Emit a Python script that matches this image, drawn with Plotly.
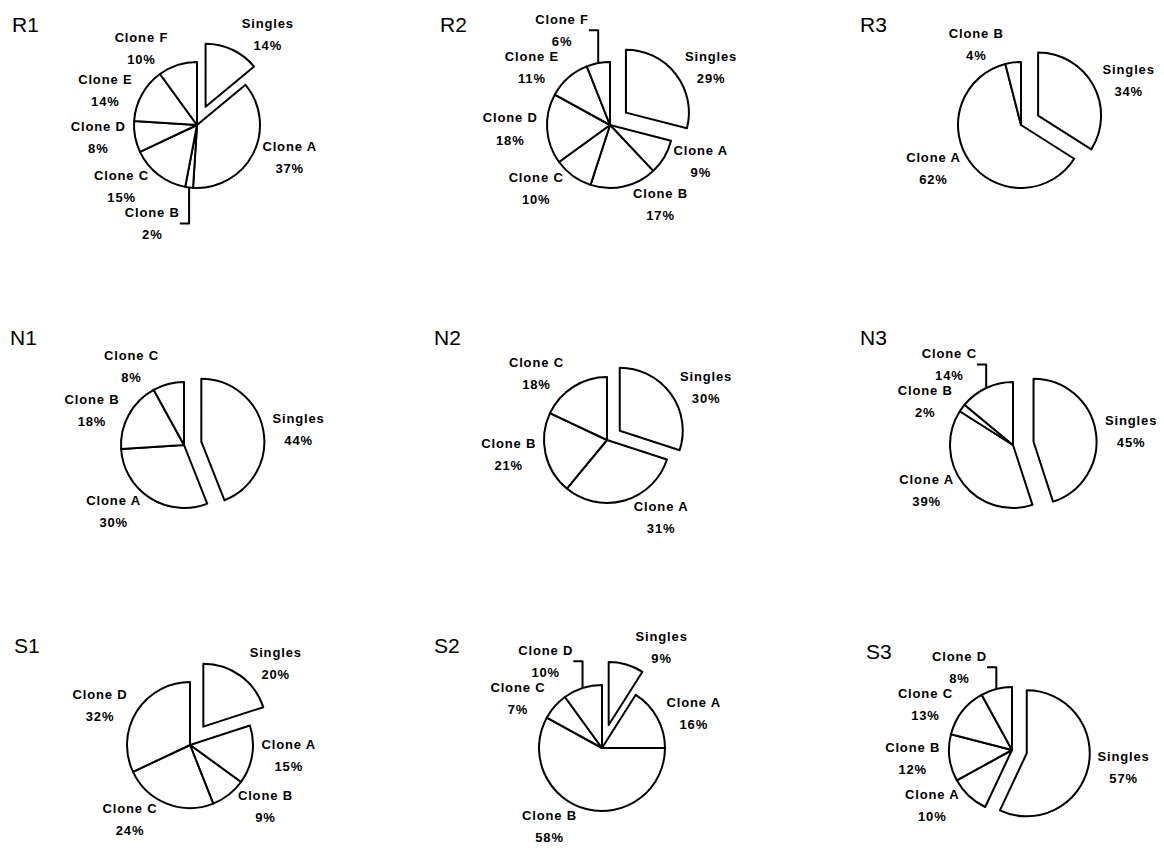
import plotly.graph_objects as go

W, H = 1164, 848
PAGE_OFFSET = 8  # the page body margin shifts the figure by this many pixels

# ---- data ----
labels_7 = ["Singles", "Clone A", "Clone B", "Clone C", "Clone D", "Clone E", "Clone F"]
labels_3 = ["Singles", "Clone A", "Clone B"]
labels_4 = ["Singles", "Clone A", "Clone B", "Clone C"]
labels_5 = ["Singles", "Clone A", "Clone B", "Clone C", "Clone D"]

R1_values = [14, 37, 2, 15, 8, 14, 10]
R2_values = [29, 9, 17, 10, 18, 11, 6]
R3_values = [34, 62, 4]
N1_values = [44, 30, 18, 8]
N2_values = [30, 31, 21, 18]
N3_values = [45, 39, 2, 14]
S1_values = [20, 15, 9, 24, 32]
S2_values = [9, 16, 58, 7, 10]
S3_values = [57, 10, 12, 13, 8]

panel_names = ["R1", "R2", "R3", "N1", "N2", "N3", "S1", "S2", "S3"]
panel_labels = [labels_7, labels_7, labels_3, labels_4, labels_4, labels_4,
                labels_5, labels_5, labels_5]
panel_values = [R1_values, R2_values, R3_values, N1_values, N2_values, N3_values,
                S1_values, S2_values, S3_values]

# ---- layout (pixels, as seen on the page) ----
centers = [(197, 125), (610, 125), (1021, 125),
           (184, 445), (607, 440), (1013, 445),
           (190, 745), (602, 748), (1012, 750)]
radius = 63
pulls = [0.32, 0.32, 0.31, 0.28, 0.25, 0.33, 0.36, 0.38, 0.24]
title_pos = [(10, 25), (438, 25), (858, 25),
             (8, 337), (432, 337), (858, 337),
             (12, 645), (432, 645), (864, 651)]

FONT = "Liberation Sans, Arial, sans-serif"
span = '<span style="font-size:13px;letter-spacing:0.85px">'
template = span + "%{label}</span><br>" + span + "%{percent:.0%}</span>"


def px_x(x):
    return (x - PAGE_OFFSET) / W


def px_y(y):
    return 1 - (y - PAGE_OFFSET) / H


fig = go.Figure()
annotations = []
for name, labs, vals, (cx, cy), p, (tx, ty) in zip(panel_names, panel_labels, panel_values,
                                                   centers, pulls, title_pos):
    h = radius * (1 + p)
    fig.add_trace(go.Pie(
        labels=labs,
        values=vals,
        sort=False,
        direction="clockwise",
        rotation=0,
        pull=[p] + [0] * (len(vals) - 1),
        marker=dict(colors=["white"] * len(vals), line=dict(color="black", width=2)),
        textposition="outside",
        automargin=False,
        texttemplate=template,
        outsidetextfont=dict(family=FONT, size=17, color="black", weight="bold"),
        hoverinfo="label+percent",
        showlegend=False,
        domain=dict(x=[px_x(cx - h), px_x(cx + h)],
                    y=[px_y(cy + h), px_y(cy - h)]),
    ))
    annotations.append(dict(
        text=name, x=px_x(tx), y=px_y(ty), xref="paper", yref="paper",
        xanchor="left", yanchor="middle", showarrow=False,
        font=dict(family=FONT, size=21, color="black"),
    ))

fig.update_layout(
    width=W, height=H,
    margin=dict(l=0, r=0, t=0, b=0, autoexpand=False),
    paper_bgcolor="white", plot_bgcolor="white",
    annotations=annotations,
    showlegend=False,
)

fig.write_html("out.html")
